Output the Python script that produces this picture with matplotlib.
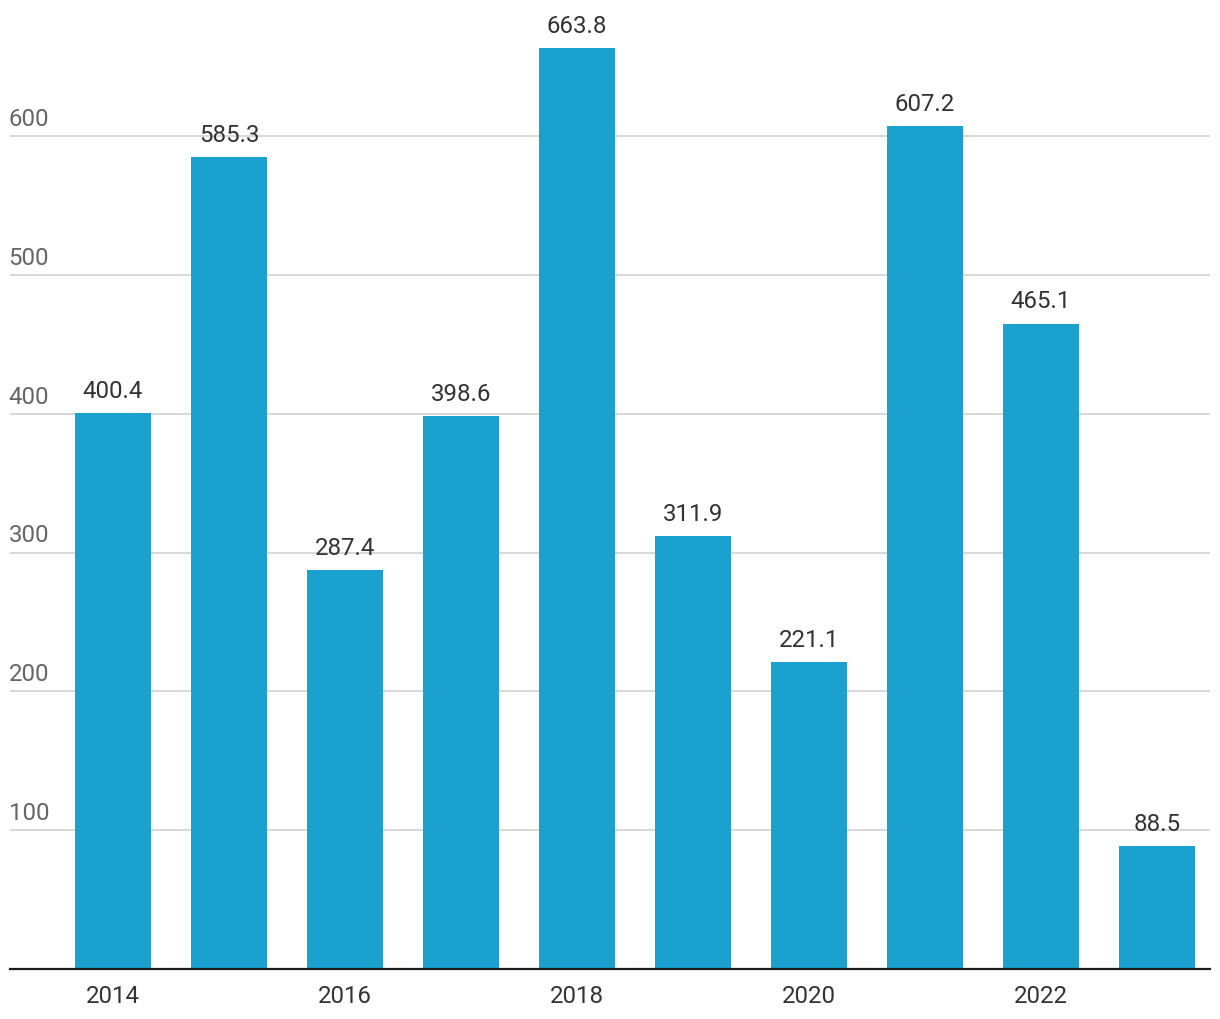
import matplotlib
matplotlib.use("Agg")
import matplotlib.pyplot as plt
import matplotlib.transforms as mtransforms

plt.rcParams['font.family'] = ['Roboto', 'DejaVu Sans']

years = [2014, 2015, 2016, 2017, 2018, 2019, 2020, 2021, 2022, 2023]
values = [400.4, 585.3, 287.4, 398.6, 663.8, 311.9, 221.1, 607.2, 465.1, 88.5]
y_ticks = [100, 200, 300, 400, 500, 600]
x_label_years = [2014, 2016, 2018, 2020, 2022]

bar_color = "#1aa1cd"

fig = plt.figure(figsize=(12.2, 10.2), dpi=100)
ax = fig.add_axes([10 / 1220, 50 / 1020, 1200 / 1220, 970 / 1020])

pos = list(range(len(years)))
bars = ax.bar(pos, values, width=0.655, color=bar_color, zorder=2)

ax.set_xlim(-0.888, 9.457)
ax.set_ylim(0, 699)

# value labels
for p, v in zip(pos, values):
    ax.annotate(f"{v:.1f}", xy=(p, v), xytext=(0, 8), textcoords="offset points",
                ha="center", va="bottom", fontsize=17.3, color="#333333")

# grid + y labels sitting above the lines
ax.set_yticks(y_ticks)
ax.set_yticklabels([])
ax.tick_params(axis="y", length=0)
ax.grid(axis="y", color="#d6d6d6", linewidth=1.3, zorder=0)
trans = mtransforms.blended_transform_factory(ax.transAxes, ax.transData)
for t in y_ticks:
    ax.annotate(str(t), xy=(0, t), xycoords=trans, xytext=(-1, 4.5),
                textcoords="offset points", ha="left", va="bottom",
                fontsize=17.3, color="#666666")

ax.set_xticks([years.index(y) for y in x_label_years])
ax.set_xticklabels([str(y) for y in x_label_years], fontsize=17.3, color="#333333")
ax.tick_params(axis="x", length=0, pad=11)

for side in ["top", "right", "left"]:
    ax.spines[side].set_visible(False)
ax.spines["bottom"].set_color("#1a1a1a")
ax.spines["bottom"].set_linewidth(1.6)
ax.spines["bottom"].set_zorder(3)

fig.savefig("out.png", dpi=100)
